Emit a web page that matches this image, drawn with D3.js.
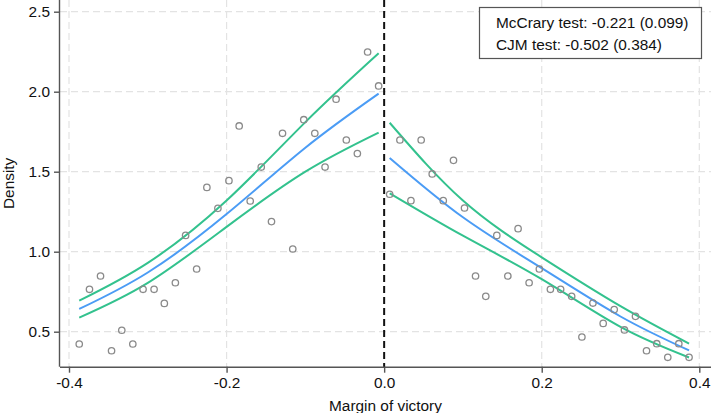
<!DOCTYPE html>
<html lang="en">
<head>
  <meta charset="UTF-8">
  <title>McCrary density test</title>
  <style>
    body { margin: 0; background: #fff; }
    svg { display: block; font-family: "Liberation Sans", Arial, sans-serif; }
    .grid line { stroke: #e3e3e3; stroke-width: 1.2; stroke-dasharray: 7,4; }
    .axis path, .axis line { stroke: #555; stroke-width: 1.4; }
    .axis text { font-size: 15.4px; fill: #111; }
    .bin { fill: none; stroke: #8a8a8a; stroke-width: 1.3; }
    .fit { fill: none; stroke: #4b9cf5; stroke-width: 2; }
    .ci { fill: none; stroke: #33c28e; stroke-width: 2; }
  </style>
</head>
<body>
<svg id="chart" width="711" height="413"></svg>
<script src="https://d3js.org/d3.v7.min.js"></script>
<script>
// binned densities (left of cutoff)
const binXLeft = [-0.387, -0.374, -0.360, -0.346, -0.333, -0.319, -0.306, -0.292, -0.279, -0.265,
  -0.252, -0.238, -0.225, -0.211, -0.197, -0.184, -0.170, -0.156, -0.143, -0.129,
  -0.116, -0.102, -0.088, -0.075, -0.061, -0.048, -0.034, -0.021, -0.007];
const binYLeft = [0.423, 0.765, 0.848, 0.381, 0.509, 0.423, 0.765, 0.765, 0.677, 0.806,
  1.102, 0.892, 1.402, 1.271, 1.444, 1.786, 1.317, 1.529, 1.188, 1.740,
  1.017, 1.825, 1.740, 1.529, 1.953, 1.698, 1.613, 2.248, 2.036];

// binned densities (right of cutoff)
const binXRight = [0.007, 0.020, 0.034, 0.047, 0.061, 0.075, 0.088, 0.102, 0.116, 0.129,
  0.143, 0.157, 0.170, 0.184, 0.197, 0.211, 0.224, 0.238, 0.251, 0.265,
  0.278, 0.292, 0.305, 0.319, 0.333, 0.346, 0.360, 0.374, 0.387];
const binYRight = [1.359, 1.698, 1.319, 1.698, 1.486, 1.319, 1.571, 1.273, 0.848, 0.721,
  1.102, 0.848, 1.144, 0.806, 0.892, 0.765, 0.765, 0.721, 0.467, 0.679,
  0.552, 0.638, 0.511, 0.596, 0.381, 0.425, 0.340, 0.425, 0.340];

// fitted density and confidence bands, left side
const fitXLeft = [-0.387, -0.300, -0.200, -0.100, -0.007];
const fitYLeft = [0.642, 0.870, 1.235, 1.650, 1.988];
const hiXLeft = [-0.387, -0.300, -0.200, -0.100, -0.007];
const hiYLeft = [0.694, 0.930, 1.320, 1.810, 2.240];
const loXLeft = [-0.387, -0.300, -0.200, -0.100, -0.007];
const loYLeft = [0.588, 0.805, 1.155, 1.500, 1.744];

// fitted density and confidence bands, right side
const fitXRight = [0.007, 0.100, 0.200, 0.300, 0.387];
const fitYRight = [1.586, 1.215, 0.897, 0.595, 0.383];
const hiXRight = [0.007, 0.100, 0.200, 0.300, 0.387];
const hiYRight = [1.806, 1.320, 0.965, 0.660, 0.426];
const loXRight = [0.007, 0.100, 0.200, 0.300, 0.387];
const loYRight = [1.365, 1.100, 0.828, 0.530, 0.339];

const xTicks = [-0.4, -0.2, 0.0, 0.2, 0.4];
const yTicks = [0.5, 1.0, 1.5, 2.0, 2.5];
const legendLines = ["McCrary test: -0.221 (0.099)", "CJM test: -0.502 (0.384)"];

const svg = d3.select("#chart");
const plotLeft = 60, plotRight = 711, plotTop = 0, plotBottom = 366.7;

const x = d3.scaleLinear().domain([-0.4, 0.4]).range([69, 699.3]);
const y = d3.scaleLinear().domain([0.5, 2.5]).range([331.7, 11.7]);
const fmt = d => d.toFixed(1);

// gridlines
const grid = svg.append("g").attr("class", "grid");
grid.selectAll(".gy").data(yTicks).join("line")
  .attr("x1", plotLeft).attr("x2", plotRight)
  .attr("y1", d => y(d)).attr("y2", d => y(d));
grid.selectAll(".gx").data(xTicks.filter(d => d !== 0)).join("line")
  .attr("x1", d => x(d)).attr("x2", d => x(d))
  .attr("y1", plotTop).attr("y2", plotBottom);

// axes
const xAxis = svg.append("g").attr("class", "axis")
  .attr("transform", "translate(0," + plotBottom + ")")
  .call(d3.axisBottom(x).tickValues(xTicks).tickFormat(fmt).tickSize(6).tickSizeOuter(0).tickPadding(4));
xAxis.select(".domain").attr("d", "M" + plotLeft + ",0.5H" + plotRight);

const yAxis = svg.append("g").attr("class", "axis")
  .attr("transform", "translate(" + plotLeft + ",0)")
  .call(d3.axisLeft(y).tickValues(yTicks).tickFormat(fmt).tickSize(6).tickSizeOuter(0).tickPadding(4));
yAxis.select(".domain").attr("d", "M-0.5," + plotTop + "V" + plotBottom);

// cutoff
svg.append("line")
  .attr("x1", x(0)).attr("x2", x(0))
  .attr("y1", plotTop).attr("y2", plotBottom)
  .attr("stroke", "#111").attr("stroke-width", 2)
  .attr("stroke-dasharray", "7,4");

// fitted curves
const line = d3.line().x(d => x(d[0])).y(d => y(d[1])).curve(d3.curveNatural);
const curves = [
  [hiXLeft, hiYLeft, "ci"], [loXLeft, loYLeft, "ci"], [fitXLeft, fitYLeft, "fit"],
  [hiXRight, hiYRight, "ci"], [loXRight, loYRight, "ci"], [fitXRight, fitYRight, "fit"]
];
curves.forEach(([xs, ys, cls]) => {
  svg.append("path")
    .datum(xs.map((v, i) => [v, ys[i]]))
    .attr("class", cls)
    .attr("d", line);
});

// bins
const bins = binXLeft.map((v, i) => [v, binYLeft[i]])
  .concat(binXRight.map((v, i) => [v, binYRight[i]]));
svg.selectAll(".bin").data(bins).join("circle")
  .attr("class", "bin")
  .attr("cx", d => x(d[0])).attr("cy", d => y(d[1]))
  .attr("r", 3.2);

// legend box
svg.append("rect")
  .attr("x", 479.5).attr("y", 7.5).attr("width", 222).attr("height", 51)
  .attr("fill", "#fff").attr("stroke", "#555").attr("stroke-width", 1.2);
svg.selectAll(".leg").data(legendLines).join("text")
  .attr("x", 496).attr("y", (d, i) => 28 + i * 22)
  .attr("font-size", "15.4px").attr("fill", "#111")
  .text(d => d);

// axis titles
svg.append("text")
  .attr("x", (plotLeft + plotRight) / 2).attr("y", 411)
  .attr("text-anchor", "middle").attr("font-size", "15.4px").attr("fill", "#111")
  .text("Margin of victory");
svg.append("text")
  .attr("transform", "translate(14," + ((plotTop + plotBottom) / 2) + ") rotate(-90)")
  .attr("text-anchor", "middle").attr("font-size", "15.4px").attr("fill", "#111")
  .text("Density");
</script>
</body>
</html>
